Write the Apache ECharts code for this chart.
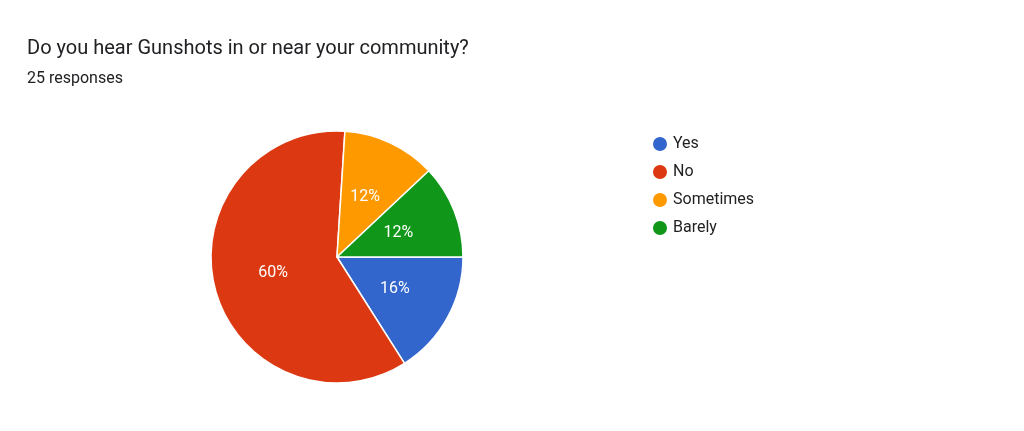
<!DOCTYPE html>
<html><head><meta charset="utf-8">
<script src="https://cdn.jsdelivr.net/npm/echarts@6/dist/echarts.min.js"></script>
<style>html,body{margin:0;padding:0;background:#fff}#c{width:1024px;height:431px}</style>
</head><body><div id="c"></div>
<script>
const categories = ["Yes","No","Sometimes","Barely"];
const values = [4,15,3,3];
const colors = ["#3366cc","#dc3912","#ff9900","#109618"];
const chart = echarts.init(document.getElementById('c'));
chart.setOption({
  animation:false,
  title:{text:"Do you hear Gunshots in or near your community?",subtext:"25 responses",left:22,top:34,itemGap:12,
    textStyle:{fontFamily:"Roboto",fontSize:20,fontWeight:"normal",color:"#202124"},
    subtextStyle:{fontFamily:"Roboto",fontSize:16,color:"#202124"}},
  legend:{orient:"vertical",left:646,top:130,itemGap:10,icon:"circle",itemWidth:16,itemHeight:16,
    textStyle:{fontFamily:"Roboto",fontSize:16,color:"#222"},data:categories},
  series:[{type:"pie",center:[337,257],radius:126,startAngle:0,clockwise:true,
    itemStyle:{borderColor:"#fff",borderWidth:1.5},
    label:{position:"inside",formatter:"{d}%",color:"#fff",fontFamily:"Roboto",fontSize:16},
    labelLine:{show:false},
    data:categories.map((n,i)=>({name:n,value:values[i],itemStyle:{color:colors[i]}}))}]
});
</script></body></html>
